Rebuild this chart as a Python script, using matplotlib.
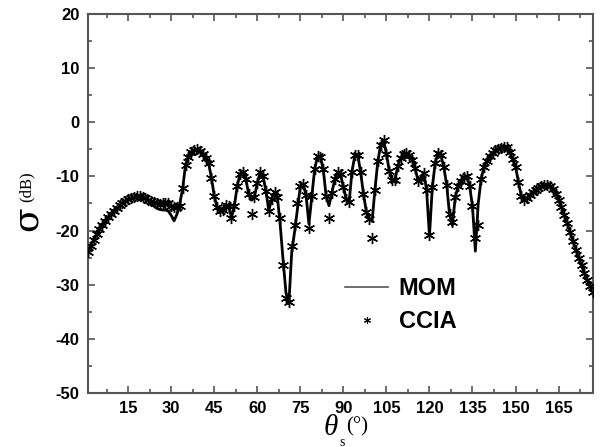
import matplotlib
matplotlib.use("Agg")
import matplotlib.pyplot as plt
from matplotlib.lines import Line2D
from matplotlib.ticker import MultipleLocator
import numpy as np

plt.rcParams['axes.unicode_minus'] = False

# scattering angle theta_s in degrees (1..177)
theta = list(range(1, 178))

# MOM reference solution, dB
mom_db = [
    -24.0, -22.8, -21.7, -20.7, -19.8, -19.0, -18.2, -17.5, -16.9, -16.3,   # 1-10
    -15.8, -15.3, -14.9, -14.5, -14.2, -14.0, -13.8, -13.7, -13.7, -13.8,   # 11-20
    -14.0, -14.3, -15.0, -15.5, -15.9, -16.1, -16.2, -16.2, -16.4, -17.2,   # 21-30
    -18.2, -17.0, -15.0, -12.2, -7.8, -6.4, -5.5, -5.1, -5.0, -5.3,         # 31-40
    -5.9, -6.6, -7.5, -10.2, -13.6, -15.7, -16.4, -16.2, -15.3, -15.4,      # 41-50
    -17.6, -15.5, -11.8, -9.5, -9.1, -10.4, -13.3, -14.4, -13.8, -11.2,     # 51-60
    -9.2, -10.0, -12.6, -16.3, -14.2, -12.9, -13.8, -19.0, -25.5, -31.5,    # 61-70
    -33.5, -24.0, -20.2, -16.0, -11.8, -11.4, -13.5, -18.8, -13.7, -8.6,    # 71-80
    -6.3, -6.4, -8.7, -13.7, -15.4, -13.0, -10.5, -9.2, -9.6, -11.9,        # 81-90
    -14.2, -14.8, -9.1, -6.1, -6.0, -9.2, -13.2, -16.5, -17.8, -18.3,       # 91-100
    -12.5, -7.2, -4.2, -3.3, -5.8, -9.0, -10.6, -10.6, -8.0, -6.6,          # 101-110
    -5.9, -5.7, -6.1, -6.9, -8.4, -10.8, -10.5, -9.3, -12.5, -21.0,         # 111-120
    -12.0, -7.5, -5.6, -6.0, -8.3, -11.5, -17.0, -19.0, -13.8, -11.8,       # 121-130
    -10.8, -10.1, -10.0, -11.8, -15.5, -23.8, -15.0, -10.5, -8.3, -7.1,     # 131-140
    -6.2, -5.6, -5.2, -4.9, -4.7, -4.5, -4.6, -5.5, -6.8, -8.2,             # 141-150
    -11.0, -13.6, -14.4, -14.0, -13.4, -12.9, -12.5, -12.1, -11.8, -11.6,   # 151-160
    -11.6, -11.8, -12.3, -13.2, -14.3, -15.6, -17.1, -18.6, -20.3, -21.9,   # 161-170
    -23.5, -25.0, -26.4, -27.8, -29.2, -30.3, -31.3,                        # 171-177
]

# CCIA result, dB
ccia_db = [
    -24.0, -22.8, -21.7, -20.7, -19.8, -19.0, -18.2, -17.5, -16.9, -16.3,
    -15.8, -15.3, -14.9, -14.5, -14.2, -14.0, -13.8, -13.7, -13.7, -13.8,
    -14.0, -14.3, -14.6, -14.8, -15.0, -15.1, -15.0, -14.9, -15.0, -15.4,
    -15.6, -15.7, -15.5, -12.2, -7.8, -6.4, -5.5, -5.1, -5.0, -5.3,
    -5.9, -6.6, -7.5, -10.2, -13.6, -15.7, -16.4, -16.2, -15.3, -15.4,
    -17.6, -15.5, -11.8, -9.5, -9.1, -10.4, -13.3, -16.9, -13.8, -11.2,
    -9.2, -10.0, -12.6, -16.3, -14.2, -12.9, -13.8, -17.7, -26.4, -32.5,
    -33.2, -22.9, -19.0, -15.0, -11.8, -11.4, -13.5, -19.5, -13.7, -8.6,
    -6.3, -6.4, -8.7, -13.7, -17.6, -13.0, -10.5, -9.2, -9.6, -11.9,
    -14.2, -14.8, -9.1, -6.1, -6.0, -9.2, -13.2, -16.5, -17.8, -21.4,
    -12.5, -7.2, -4.2, -3.3, -5.8, -9.0, -10.6, -10.6, -8.0, -6.6,
    -5.9, -5.7, -6.1, -6.9, -8.4, -10.8, -10.5, -9.3, -12.5, -20.8,
    -12.0, -7.5, -5.6, -6.0, -8.3, -11.5, -17.0, -18.4, -13.8, -11.8,
    -10.8, -10.1, -10.0, -11.8, -15.5, -21.4, -19.0, -10.5, -8.3, -7.1,
    -6.2, -5.6, -5.2, -4.9, -4.7, -4.5, -4.6, -5.5, -6.8, -8.2,
    -11.0, -13.6, -14.4, -14.0, -13.4, -12.9, -12.5, -12.1, -11.8, -11.6,
    -11.6, -11.8, -12.3, -13.2, -14.3, -15.6, -17.1, -18.6, -20.3, -21.9,
    -23.5, -25.0, -26.4, -27.8, -29.2, -30.3, -31.3,
]

y_ticks = [-50, -40, -30, -20, -10, 0, 10, 20]
x_ticks = [15, 30, 45, 60, 75, 90, 105, 120, 135, 150, 165]

asterisk = (6, 2, 0)

fig = plt.figure(figsize=(6.02, 4.47), dpi=100)
ax = fig.add_axes([88/602, 1 - 393/447, (593 - 88)/602, (393 - 14)/447])

ax.plot(theta, mom_db, color='black', lw=2.0, zorder=2)
ax.plot(theta, ccia_db, ls='none', marker=asterisk, ms=8, mew=1.0,
        color='black', zorder=3)

ax.set_xlim(1, 177)
ax.set_ylim(-50, 20)
ax.set_xticks(x_ticks)
ax.set_yticks(y_ticks)
ax.xaxis.set_minor_locator(MultipleLocator(7.5))
ax.yaxis.set_minor_locator(MultipleLocator(5))
ax.tick_params(which='both', direction='in', top=True, right=True,
               color='#555555', width=1.2)
ax.tick_params(which='major', length=5, labelsize=12, pad=6)
ax.tick_params(which='minor', length=3)
for lbl in ax.get_xticklabels() + ax.get_yticklabels():
    lbl.set_fontweight('bold')
    lbl.set_family('Liberation Sans')
for sp in ax.spines.values():
    sp.set_color('#555555')
    sp.set_linewidth(1.5)

# axis titles built from pieces (symbol + units)
fig.text(27/602, 1 - 219/447, '\u03c3', family='DejaVu Serif', fontsize=26,
         rotation=90, ha='center', va='center')
fig.text(27/602, 1 - 187/447, '(dB)', family='Liberation Serif', fontsize=12,
         rotation=90, ha='center', va='center')
fig.text(331/602, 1 - 428/447, '\u03b8', family='Liberation Serif',
         style='italic', fontsize=21, ha='center', va='center')
fig.text(342/602, 1 - 442/447, 's', family='Liberation Serif', fontsize=10,
         ha='center', va='center')
fig.text(357/602, 1 - 427/447, '(\u00b0)', family='Liberation Serif',
         fontsize=15, ha='center', va='center')

handles = [Line2D([], [], color='#555555', lw=1.2),
           Line2D([], [], ls='none', marker=asterisk, ms=5, mew=0.8,
                  color='black')]
ax.legend(handles, ['MOM', 'CCIA'], loc='upper left',
          bbox_to_anchor=(336/602, 1 - 268/447), bbox_transform=fig.transFigure,
          frameon=False, borderaxespad=0, handlelength=1.8, handletextpad=0.45,
          labelspacing=0.4, prop={'family': 'Liberation Sans',
                                  'weight': 'bold', 'size': 17})

fig.savefig('out.png', dpi=100)
